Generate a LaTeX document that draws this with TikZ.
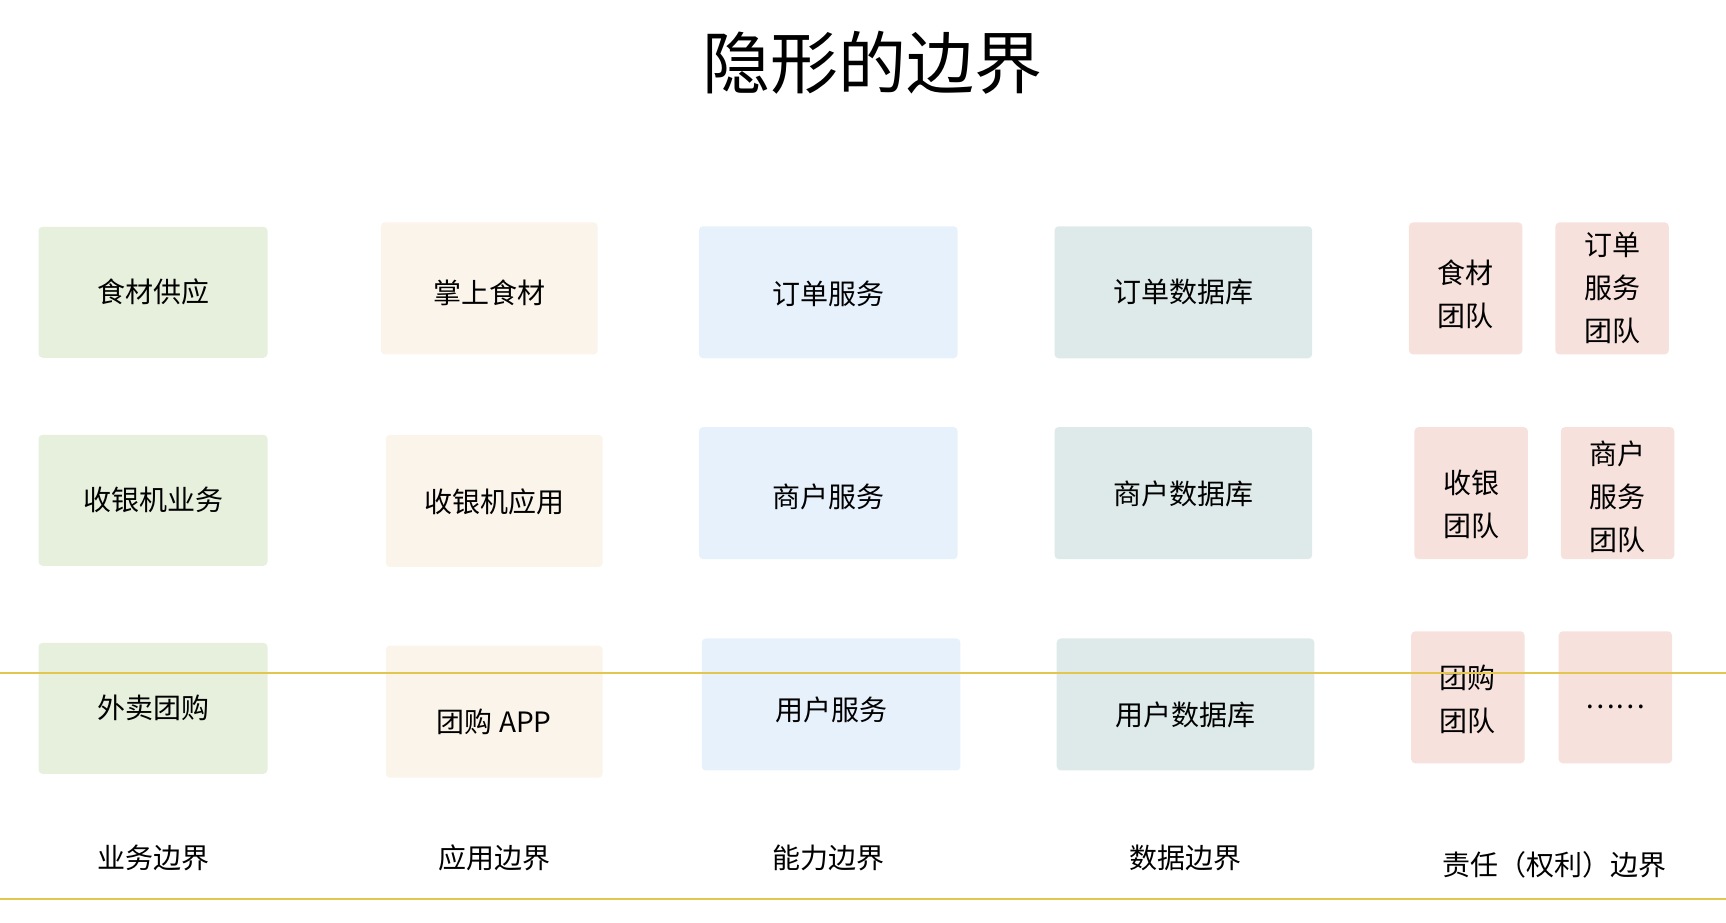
\documentclass[tikz,border=0pt]{standalone}
\usepackage{fontspec}
\setmainfont{Noto Sans CJK SC}
\definecolor{bizgreen}{HTML}{E7F0DC}
\definecolor{appcream}{HTML}{FAF4EA}
\definecolor{capblue}{HTML}{E7F1FC}
\definecolor{datateal}{HTML}{DDEAE9}
\definecolor{teampink}{HTML}{F7E1DD}
\definecolor{lineyellow}{HTML}{E3C64E}
% lower the text inside a box without changing the box
\newcommand{\dn}[2]{\raisebox{-#1}[\height][\depth]{\begin{tabular}{@{}c@{}}#2\end{tabular}}}
\begin{document}
\begin{tikzpicture}[x={(0.5504pt,0pt)}, y={(0pt,-0.5504pt)},
          txt/.style={font=\fontsize{14}{21.5}\selectfont, align=center, inner sep=0pt},
          box/.style={txt, rounded corners=2pt, minimum height=66pt},
          biz/.style={box, fill=bizgreen, minimum width=114.5pt, minimum height=65.5pt},
          app/.style={box, fill=appcream, minimum width=108.4pt},
          abil/.style={box, fill=capblue, minimum width=129.3pt},
          dat/.style={box, fill=datateal, minimum width=128.8pt},
          team/.style={box, fill=teampink, minimum width=56.7pt},
          sep/.style={draw=lineyellow, line width=1pt}]
        \useasboundingbox (0,0) rectangle (1568,838);
        \node[font=\fontsize{34}{40}\selectfont] (title) at (793,57) {隐形的边界};
        % business boundary
        \node[biz] (biz1) at (139,265.5) {食材供应};
        \node[biz] (biz2) at (139,454.5) {收银机业务};
        \node[biz] (biz3) at (139,643.5) {外卖团购};
        % application boundary
        \node[app] (app1) at (444.5,262) {\dn{3.3pt}{掌上食材}};
        \node[app] (app2) at (449,455) {\dn{1.6pt}{收银机应用}};
        \node[app] (app3) at (449,646.5) {\dn{6pt}{团购 APP}};
        % capability boundary
        \node[abil] (abil1) at (752.5,265.5) {\dn{1.6pt}{订单服务}};
        \node[abil] (abil2) at (752.5,448) {\dn{2.7pt}{商户服务}};
        \node[abil] (abil3) at (755,640) {\dn{3.9pt}{用户服务}};
        % data boundary
        \node[dat] (dat1) at (1075,265.5) {订单数据库};
        \node[dat] (dat2) at (1075,448) {\dn{1.6pt}{商户数据库}};
        \node[dat] (dat3) at (1077,640) {\dn{6pt}{用户数据库}};
        % responsibility boundary
        \node[team] (team1a) at (1331.5,262) {\dn{3.9pt}{食材\\团队}};
        \node[team] (team1b) at (1464.5,262) {订单\\服务\\团队};
        \node[team] (team2a) at (1336.5,448) {\dn{6.6pt}{收银\\团队}};
        \node[team] (team2b) at (1469.5,448) {\dn{2.7pt}{商户\\服务\\团队}};
        \node[team] (team3a) at (1333.5,633.5) {\dn{2.2pt}{团购\\团队}};
        \node[team] (team3b) at (1467.5,633.5) {\dn{1.2pt}{……}};
        % column captions
        \node[txt] (capt1) at (139,779) {业务边界};
        \node[txt] (capt2) at (449,779) {应用边界};
        \node[txt] (capt3) at (753,779) {能力边界};
        \node[txt] (capt4) at (1077,779) {数据边界};
        \node[txt] (capt5) at (1412,786) {责任（权利）边界};
        % yellow guide lines
        \coordinate (l1w) at (0,611);
        \coordinate (l1e) at (1568,611);
        \coordinate (l2w) at (0,817);
        \coordinate (l2e) at (1568,817);
        \draw[sep] (l1w) -- (l1e);
        \draw[sep] (l2w) -- (l2e);
      \end{tikzpicture}
\end{document}
